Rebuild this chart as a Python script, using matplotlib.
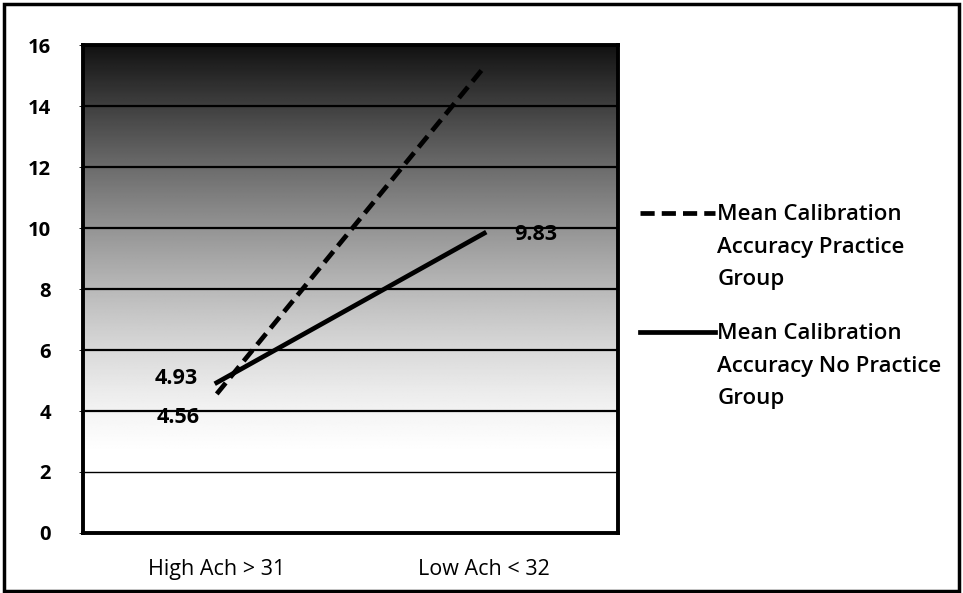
import numpy as np
import matplotlib
matplotlib.use("Agg")
import matplotlib.pyplot as plt
from matplotlib.lines import Line2D
from matplotlib.patches import Rectangle

categories = ["High Ach > 31", "Low Ach < 32"]
practice = [4.56, 15.28]
no_practice = [4.93, 9.83]
series_labels = ["Mean Calibration\nAccuracy Practice\nGroup",
                 "Mean Calibration\nAccuracy No Practice\nGroup"]
yticks = [0, 2, 4, 6, 8, 10, 12, 14, 16]

plt.rcParams['font.family'] = ['Open Sans', 'DejaVu Sans']

fig = plt.figure(figsize=(9.63, 5.93), dpi=100)
ax = fig.add_axes([0.0862, 0.1012, 0.5555, 0.8228])

x = np.arange(len(categories))
ax.set_xlim(-0.5, 1.5)
ax.set_ylim(0, 16)

# gradient background
yy = np.linspace(0, 16, 400)
t = np.clip((yy - 2.5) / 13.5, 0, 1)
shade = 1.0 - 0.93 * t ** 1.35
grad = shade[:, None] * np.ones((1, 10))
ax.imshow(grad, extent=[-0.5, 1.5, 0, 16], origin='lower', aspect='auto',
          cmap='gray', vmin=0, vmax=1, zorder=0, interpolation='bilinear')

for yv in yticks[1:]:
    ax.axhline(yv, color='black', lw=1.6 if yv > 2 else 1.0, zorder=1)

ax.plot(x, practice, color='black', lw=3.4, ls=(0, (3, 1.5)), zorder=3)
ax.plot(x, no_practice, color='black', lw=3.4, zorder=3)

# data labels
lab_kw = dict(textcoords='offset points', ha='center', va='center',
              fontsize=15.5, fontweight='bold', zorder=4)
ax.annotate(f"{practice[0]:.2f}", (x[0], practice[0]), xytext=(-28, -17), **lab_kw)
ax.annotate(f"{no_practice[0]:.2f}", (x[0], no_practice[0]), xytext=(-29, 3), **lab_kw)
ax.annotate(f"{no_practice[1]:.2f}", (x[1], no_practice[1]), xytext=(37, -1), **lab_kw)

ax.set_yticks(yticks)
ax.set_yticklabels([str(v) for v in yticks], fontsize=14.5, fontweight='bold')
ax.set_xticks(x)
ax.set_xticklabels(categories, fontsize=15.5)
ax.tick_params(axis='x', length=0, pad=19)
ax.tick_params(axis='y', length=3, width=0.6, pad=20)
for s in ax.spines.values():
    s.set_linewidth(2.8)
    s.set_color('black')

# legend (manual)
leg_items = [((0, (3, 1.5)), series_labels[0], 0.641), ('-', series_labels[1], 0.440)]
for ls, lab, yf in leg_items:
    fig.add_artist(Line2D([0.665, 0.742], [yf, yf], transform=fig.transFigure,
                          color='black', lw=3.4, ls=ls))
    fig.text(0.745, yf + 0.015, lab, ha='left', va='top', fontsize=16,
             fontweight='semibold', linespacing=1.72, transform=fig.transFigure)

# outer border
fig.add_artist(Rectangle((0.004, 0.004), 0.992, 0.99, transform=fig.transFigure,
                         fill=False, edgecolor='black', lw=2.5))

fig.savefig("out.png", dpi=100)
